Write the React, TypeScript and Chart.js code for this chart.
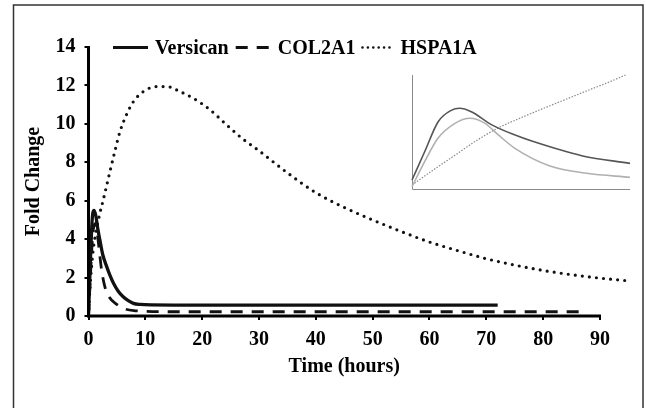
import React, { useEffect, useRef } from 'react';
import { Chart, registerables } from 'chart.js';

Chart.register(...registerables);

// ---------- data ----------
const seriesNames = ['Versican', 'COL2A1', 'HSPA1A'];

const versicanTime = [0, 0.3, 0.55, 0.75, 1.0, 1.3, 1.6, 2.0, 2.5, 3.2, 3.8, 4.4, 5.2, 6.1, 7.0, 7.9, 9.1, 11, 15, 25, 40, 55, 72];
const versicanFold = [0, 2.6, 4.5, 5.35, 5.5, 5.2, 4.6, 3.96, 3.2, 2.57, 2.1, 1.7, 1.3, 1.0, 0.8, 0.66, 0.6, 0.575, 0.57, 0.57, 0.57, 0.57, 0.57];

const col2a1Time = [0, 0.3, 0.6, 0.9, 1.2, 1.5, 1.9, 2.3, 2.9, 3.6, 4.9, 6.6, 8.5, 10, 15, 30, 50, 70, 87.5];
const col2a1Fold = [0, 1.8, 3.6, 4.6, 4.8, 4.4, 3.4, 2.4, 1.5, 1.0, 0.62, 0.35, 0.27, 0.24, 0.22, 0.22, 0.22, 0.22, 0.22];

const hspa1aTime = [0, 0.25, 0.55, 0.85, 1.4, 2.0, 2.6, 3.2, 3.8, 4.66, 5.54, 6.72, 7.88, 9.64, 12, 13.8, 16.1, 18.4, 21.4, 24.3, 27, 30, 35, 40, 45, 50, 55, 60, 65, 70, 75, 80, 85, 90, 95];
const hspa1aFold = [0, 1.4, 2.6, 3.5, 4.5, 5.35, 6.05, 6.8, 7.55, 8.6, 9.6, 10.5, 11.15, 11.68, 11.94, 11.94, 11.68, 11.34, 10.73, 9.95, 9.25, 8.6, 7.45, 6.42, 5.65, 5.0, 4.4, 3.85, 3.4, 2.98, 2.65, 2.37, 2.15, 1.97, 1.83];

const xTickValues = [0, 10, 20, 30, 40, 50, 60, 70, 80, 90];
const yTickValues = [0, 2, 4, 6, 8, 10, 12, 14];
const xAxisTitle = 'Time (hours)';
const yAxisTitle = 'Fold Change';

// inset (unitless sketch)
const insetDarkX = [0, 5.8, 12, 18, 21.8, 27.2, 36.4, 47, 55.3, 78.3, 100];
const insetDarkY = [7.9, 32.7, 59, 69, 70.8, 67.8, 56.5, 47.5, 41.8, 29, 22.5];
const insetLightX = [0, 5.8, 11.9, 19.7, 26.6, 33.5, 39.6, 47.2, 63.3, 80.1, 100];
const insetLightY = [2, 24, 44.5, 57.6, 62, 57.6, 47.4, 35.7, 20.2, 13.8, 10.3];
const insetDotX = [0, 10, 20, 30, 40, 50, 60, 70, 80, 90, 98];
const insetDotY = [3.5, 17, 30, 43, 54, 62.5, 70.5, 78.2, 86, 93.5, 100];

const toPoints = (xs: number[], ys: number[]) => xs.map((x, i) => ({ x, y: ys[i] }));

const FONT_FAMILY = '"Liberation Serif", "Times New Roman", serif';
const boldFont = { family: FONT_FAMILY, size: 20, weight: 'bold' as const };

const legendSamples = [
  { len: 35, dash: [] as number[], cap: 'butt', width: 3.2 },
  { len: 35, dash: [12, 9], cap: 'butt', width: 3 },
  { len: 31, dash: [0, 5.4], cap: 'round', width: 2.6 },
];

const framePlugin = {
  id: 'frame',
  beforeDraw(chart: any) {
    const ctx = chart.ctx;
    ctx.save();
    ctx.strokeStyle = '#333';
    ctx.lineWidth = 1.5;
    ctx.strokeRect(13.5, 5, 629.5, 430);
    ctx.restore();
  },
};

const axesPlugin = {
  id: 'axesLines',
  afterDraw(chart: any) {
    const { ctx, scales } = chart;
    const xs = scales.x;
    const ys = scales.y;
    const x0 = xs.getPixelForValue(0);
    const x90 = xs.getPixelForValue(xTickValues[xTickValues.length - 1]);
    const y0 = ys.getPixelForValue(0);
    const yTop = ys.getPixelForValue(yTickValues[yTickValues.length - 1]);
    ctx.save();
    ctx.strokeStyle = '#000';
    ctx.lineWidth = 3;
    ctx.lineCap = 'butt';
    ctx.beginPath();
    ctx.moveTo(x0, yTop - 1);
    ctx.lineTo(x0, y0 + 1.5);
    ctx.moveTo(x0 - 1.5, y0);
    ctx.lineTo(x90 + 1, y0);
    ctx.stroke();
    // x axis title
    ctx.fillStyle = '#000';
    ctx.font = `bold 20px ${FONT_FAMILY}`;
    ctx.textAlign = 'center';
    ctx.textBaseline = 'middle';
    ctx.fillText(xAxisTitle, (x0 + x90) / 2, 367);
    ctx.restore();
  },
};

const legendPlugin = {
  id: 'customLegend',
  afterDraw(chart: any) {
    const ctx = chart.ctx;
    ctx.save();
    ctx.font = `bold 20px ${FONT_FAMILY}`;
    ctx.textBaseline = 'middle';
    ctx.textAlign = 'left';
    let x = 113;
    const y = 47.5;
    chart.data.datasets.forEach((ds: any, i: number) => {
      const s = legendSamples[i];
      ctx.beginPath();
      ctx.setLineDash(s.dash);
      ctx.lineCap = s.cap;
      ctx.lineWidth = s.width;
      ctx.strokeStyle = ds.borderColor;
      ctx.moveTo(x, y);
      ctx.lineTo(x + s.len, y);
      ctx.stroke();
      ctx.setLineDash([]);
      x += s.len + 7;
      ctx.fillStyle = '#000';
      ctx.fillText(ds.label, x, y + 1);
      x += ctx.measureText(ds.label).width + 7;
    });
    ctx.restore();
  },
};

const insetAxesPlugin = {
  id: 'insetAxes',
  beforeDatasetsDraw(chart: any) {
    const { ctx, chartArea } = chart;
    ctx.save();
    ctx.strokeStyle = '#8a8a8a';
    ctx.lineWidth = 1;
    ctx.beginPath();
    ctx.moveTo(chartArea.left + 0.5, chartArea.top);
    ctx.lineTo(chartArea.left + 0.5, chartArea.bottom + 0.5);
    ctx.lineTo(chartArea.right, chartArea.bottom + 0.5);
    ctx.stroke();
    ctx.restore();
  },
};

export default function App() {
  const mainRef = useRef<HTMLCanvasElement | null>(null);
  const insetRef = useRef<HTMLCanvasElement | null>(null);

  useEffect(() => {
    if (!mainRef.current || !insetRef.current) return;

    const gridOpts = {
      drawOnChartArea: false,
      drawTicks: true,
      tickLength: 4,
      color: '#000',
      lineWidth: 2,
    };

    const main = new Chart(mainRef.current, {
      type: 'line',
      data: {
        datasets: [
          {
            label: seriesNames[0],
            data: toPoints(versicanTime, versicanFold),
            borderColor: '#111',
            borderWidth: 3.3,
            pointRadius: 0,
            cubicInterpolationMode: 'monotone',
            fill: false,
          },
          {
            label: seriesNames[1],
            data: toPoints(col2a1Time, col2a1Fold),
            borderColor: '#111',
            borderWidth: 2.8,
            borderDash: [12, 9],
            pointRadius: 0,
            cubicInterpolationMode: 'monotone',
            fill: false,
          },
          {
            label: seriesNames[2],
            data: toPoints(hspa1aTime, hspa1aFold),
            borderColor: '#111',
            borderWidth: 3.2,
            borderDash: [0, 7.1],
            borderCapStyle: 'round',
            pointRadius: 0,
            cubicInterpolationMode: 'monotone',
            fill: false,
            clip: 4,
          },
        ],
      },
      options: {
        responsive: false,
        animation: false,
        devicePixelRatio: 1,
        layout: { padding: { left: 0, top: 47, right: 17.6, bottom: 0 } },
        plugins: { legend: { display: false }, tooltip: { enabled: false } },
        scales: {
          x: {
            type: 'linear',
            min: 0,
            max: 95,
            afterFit: (s: any) => {
              s.height = 92;
            },
            afterBuildTicks: (s: any) => {
              s.ticks = xTickValues.map((v) => ({ value: v }));
            },
            ticks: {
              font: boldFont,
              color: '#000',
              padding: 8,
              maxRotation: 0,
              autoSkip: false,
            },
            grid: gridOpts,
            border: { display: false },
          },
          y: {
            type: 'linear',
            min: 0,
            max: 14,
            afterFit: (s: any) => {
              s.width = 88.5;
            },
            afterBuildTicks: (s: any) => {
              s.ticks = yTickValues.map((v) => ({ value: v }));
            },
            ticks: {
              font: boldFont,
              color: '#000',
              padding: 9,
              autoSkip: false,
            },
            title: {
              display: true,
              text: yAxisTitle,
              font: boldFont,
              color: '#000',
              padding: { top: 22, bottom: 0 },
            },
            grid: gridOpts,
            border: { display: false },
          },
        },
      },
      plugins: [framePlugin, axesPlugin, legendPlugin],
    } as any);

    const inset = new Chart(insetRef.current, {
      type: 'line',
      data: {
        datasets: [
          {
            data: toPoints(insetDarkX, insetDarkY),
            borderColor: '#555',
            borderWidth: 1.6,
            pointRadius: 0,
            cubicInterpolationMode: 'monotone',
            clip: false,
          },
          {
            data: toPoints(insetLightX, insetLightY),
            borderColor: '#b0b0b0',
            borderWidth: 1.6,
            pointRadius: 0,
            cubicInterpolationMode: 'monotone',
            clip: false,
          },
          {
            data: toPoints(insetDotX, insetDotY),
            borderColor: '#8a8a8a',
            borderWidth: 1.2,
            borderDash: [1.5, 1.5],
            pointRadius: 0,
            cubicInterpolationMode: 'monotone',
            clip: false,
          },
        ],
      },
      options: {
        responsive: false,
        animation: false,
        devicePixelRatio: 1,
        layout: { padding: { left: 4, right: 4, top: 5, bottom: 3 } },
        plugins: { legend: { display: false }, tooltip: { enabled: false } },
        scales: {
          x: { type: 'linear', min: 0, max: 100, display: false },
          y: { type: 'linear', min: 0, max: 100, display: false },
        },
      },
      plugins: [insetAxesPlugin],
    } as any);

    return () => {
      main.destroy();
      inset.destroy();
    };
  }, []);

  return (
    <div style={{ position: 'absolute', left: 0, top: 0, width: 646, height: 408, background: '#fff' }}>
      <canvas ref={mainRef} width={646} height={408} style={{ position: 'absolute', left: 0, top: 0 }} />
      <canvas ref={insetRef} width={226} height={122} style={{ position: 'absolute', left: 408, top: 70 }} />
    </div>
  );
}
